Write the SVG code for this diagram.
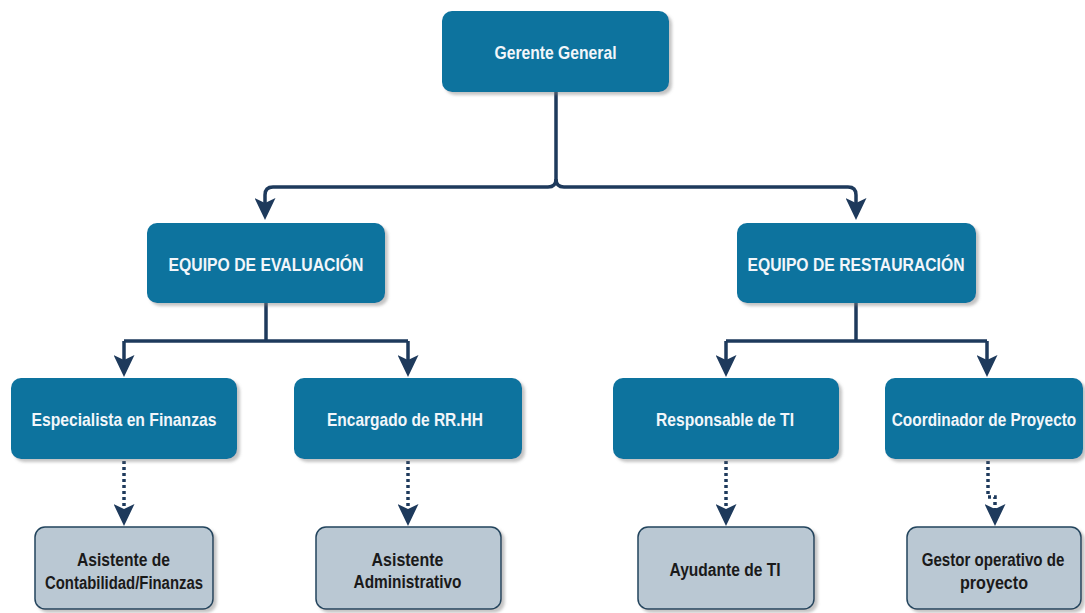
<svg xmlns="http://www.w3.org/2000/svg" width="1085" height="613" viewBox="0 0 1085 613">
<style>
.blue{fill:#10739e;filter:url(#sh)}
.gray{fill:#bac8d3;stroke:#23445d;stroke-width:1.5;filter:url(#sh)}
.tw{font-family:"Liberation Sans",Arial,sans-serif;font-weight:bold;font-size:19px;fill:#f2f6fa;text-anchor:middle}
.tk{font-family:"Liberation Sans",Arial,sans-serif;font-weight:bold;font-size:18px;fill:#1a1a1a;text-anchor:middle}
.ln{fill:none;stroke:#1e3a5c;stroke-width:3.5}
.dot{fill:none;stroke:#1e3a5c;stroke-width:3.5;stroke-dasharray:3 3}
</style>
<defs>
<filter id="sh" x="-10%" y="-10%" width="125%" height="130%">
<feDropShadow dx="3" dy="3" stdDeviation="1.5" flood-color="#7a7a7a" flood-opacity="0.45"/>
</filter>
<marker id="ar" markerUnits="userSpaceOnUse" markerWidth="23" markerHeight="21" viewBox="0 0 23 21" refX="14" refY="10.5" orient="auto">
<path d="M0,0 L22,10.5 L0,21 L5,10.5 Z" fill="#1e3a5c"/>
</marker>
</defs>
<rect width="1085" height="613" fill="#ffffff"/>
<g id="connectors">
<path class="ln" d="M556,92 V179 Q556,187 548,187 H273 Q265,187 265,195 V212" marker-end="url(#ar)"/>
<path class="ln" d="M556,179 Q556,187 564,187 H848 Q856,187 856,195 V212" marker-end="url(#ar)"/>
<path class="ln" d="M266,303 V341"/>
<path class="ln" d="M124,341 H408"/>
<path class="ln" d="M124,341 V369" marker-end="url(#ar)"/>
<path class="ln" d="M408,341 V369" marker-end="url(#ar)"/>
<path class="ln" d="M856,303 V341"/>
<path class="ln" d="M726,341 H987"/>
<path class="ln" d="M726,341 V369" marker-end="url(#ar)"/>
<path class="ln" d="M987,341 V369" marker-end="url(#ar)"/>
<path class="dot" d="M124,461 V518" marker-end="url(#ar)"/>
<path class="dot" d="M408,461 V518" marker-end="url(#ar)"/>
<path class="dot" d="M726,461 V518" marker-end="url(#ar)"/>
<path class="dot" d="M988,461 V497 H995 V518" marker-end="url(#ar)"/>
</g>
<g id="gerente">
<rect class="blue" x="442" y="11" width="227" height="81" rx="10"/>
<text class="tw" x="555.5" y="59" textLength="122" lengthAdjust="spacingAndGlyphs">Gerente General</text>
</g>
<g id="equipo-evaluacion">
<rect class="blue" x="147" y="223" width="238" height="80" rx="10"/>
<text class="tw" x="266" y="271" textLength="195" lengthAdjust="spacingAndGlyphs">EQUIPO DE EVALUACIÓN</text>
</g>
<g id="equipo-restauracion">
<rect class="blue" x="737" y="223" width="239" height="80" rx="10"/>
<text class="tw" x="856" y="271" textLength="217" lengthAdjust="spacingAndGlyphs">EQUIPO DE RESTAURACIÓN</text>
</g>
<g id="especialista">
<rect class="blue" x="11" y="378" width="226" height="81" rx="10"/>
<text class="tw" x="124" y="426" textLength="185" lengthAdjust="spacingAndGlyphs">Especialista en Finanzas</text>
</g>
<g id="encargado">
<rect class="blue" x="294" y="378" width="228" height="81" rx="10"/>
<text class="tw" x="405" y="426" textLength="156" lengthAdjust="spacingAndGlyphs">Encargado de RR.HH</text>
</g>
<g id="responsable">
<rect class="blue" x="613" y="378" width="226" height="81" rx="10"/>
<text class="tw" x="725" y="426" textLength="138" lengthAdjust="spacingAndGlyphs">Responsable de TI</text>
</g>
<g id="coordinador">
<rect class="blue" x="885" y="378" width="198" height="81" rx="10"/>
<text class="tw" x="0" y="0" transform="translate(984,426) scale(0.81,1)">Coordinador de Proyecto</text>
</g>
<g id="asistente-contabilidad">
<rect class="gray" x="35" y="527" width="178" height="82" rx="10"/>
<text class="tk" x="123.5" y="566" textLength="93" lengthAdjust="spacingAndGlyphs">Asistente de</text>
<text class="tk" x="124" y="589" textLength="158" lengthAdjust="spacingAndGlyphs">Contabilidad/Finanzas</text>
</g>
<g id="asistente-administrativo">
<rect class="gray" x="316" y="527" width="185" height="82" rx="10"/>
<text class="tk" x="407.5" y="566" textLength="72" lengthAdjust="spacingAndGlyphs">Asistente</text>
<text class="tk" x="407.5" y="588" textLength="108" lengthAdjust="spacingAndGlyphs">Administrativo</text>
</g>
<g id="ayudante">
<rect class="gray" x="638" y="527" width="176" height="82" rx="10"/>
<text class="tk" x="725" y="576" textLength="111" lengthAdjust="spacingAndGlyphs">Ayudante de TI</text>
</g>
<g id="gestor">
<rect class="gray" x="907" y="527" width="174" height="82" rx="10"/>
<text class="tk" x="0" y="0" transform="translate(993,566) scale(0.84,1)">Gestor operativo de</text>
<text class="tk" x="994" y="589" textLength="68" lengthAdjust="spacingAndGlyphs">proyecto</text>
</g>
</svg>
